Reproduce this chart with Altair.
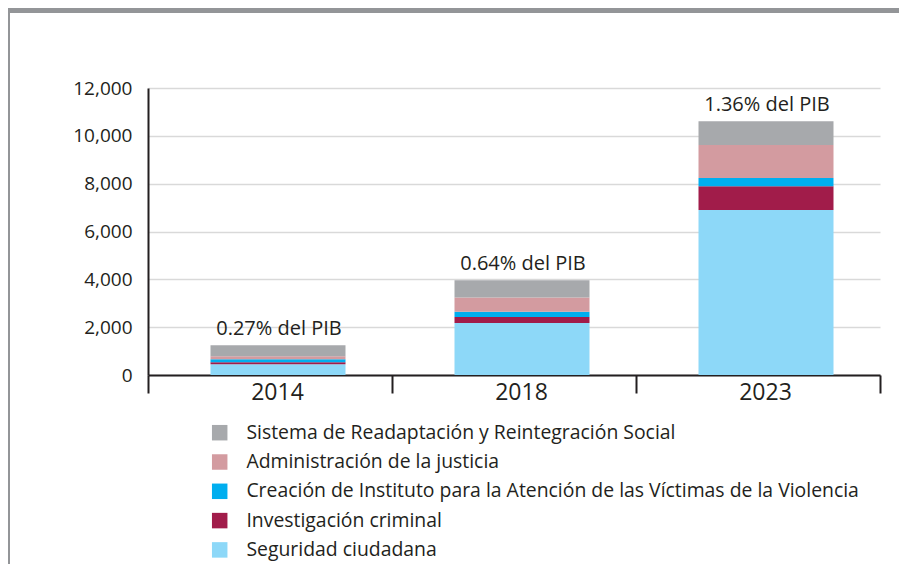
import altair as alt
import pandas as pd

years = ["2014", "2018", "2023"]
pib_labels = ["0.27% del PIB", "0.64% del PIB", "1.36% del PIB"]

# stack order: bottom -> top
cat_seguridad = "Seguridad ciudadana"
cat_investigacion = "Investigación criminal"
cat_instituto = "Creación de Instituto para la Atención de las Víctimas de la Violencia"
cat_administracion = "Administración de la justicia"
cat_sistema = "Sistema de Readaptación y Reintegración Social"

seguridad = [450, 2170, 6900]
investigacion = [80, 250, 990]
instituto = [125, 220, 350]
administracion = [125, 600, 1375]
sistema = [460, 725, 990]

stack_cats = [cat_seguridad, cat_investigacion, cat_instituto, cat_administracion, cat_sistema]
stack_vals = [seguridad, investigacion, instituto, administracion, sistema]
legend_order = [cat_sistema, cat_administracion, cat_instituto, cat_investigacion, cat_seguridad]
legend_colors = ["#a7a9ac", "#d39ba0", "#00aeef", "#a11c4a", "#8dd8f8"]

rows = []
for rank, (cat, vals) in enumerate(zip(stack_cats, stack_vals)):
    for yr, v in zip(years, vals):
        rows.append({"year": yr, "cat": cat, "value": v, "rank": rank})
df = pd.DataFrame(rows)

totals = pd.DataFrame({
    "year": years,
    "total": [sum(v[i] for v in stack_vals) for i in range(len(years))],
    "label": pib_labels,
})

FONT = "Open Sans"
DARK = "#231f20"

x_scale = alt.Scale(paddingInner=0, paddingOuter=0)

x_enc = alt.X("year:N", sort=years, title=None, scale=x_scale,
              axis=alt.Axis(labelAngle=0, labelFontSize=23, labelColor=DARK, labelFont=FONT,
                            domainColor=DARK, domainWidth=2, tickColor=DARK, tickWidth=2,
                            tickSize=18, tickBand="extent", labelPadding=-12, labelOffset=7,
                            grid=False))

bars = alt.Chart(df).mark_bar(width=135, xOffset=8).encode(
    x=x_enc,
    y=alt.Y("value:Q", stack="zero", title=None,
            scale=alt.Scale(domain=[0, 12000], nice=False),
            axis=alt.Axis(values=[0, 2000, 4000, 6000, 8000, 10000, 12000], format=",.0f",
                          labelFontSize=19, labelColor=DARK, labelFont=FONT, labelPadding=16,
                          ticks=False, domainColor=DARK, domainWidth=2,
                          grid=True, gridColor="#d9d9d9", gridWidth=1.5)),
    color=alt.Color("cat:N", title=None,
                    scale=alt.Scale(domain=legend_order, range=legend_colors),
                    legend=alt.Legend(orient="none", legendX=62, legendY=335,
                                      symbolType="square", symbolSize=240, symbolStrokeWidth=0,
                                      symbolOpacity=1, labelFontSize=19.4, labelFont=FONT,
                                      labelColor=DARK, labelOffset=17, rowPadding=8.3,
                                      padding=0, labelLimit=800)),
    order=alt.Order("rank:Q", sort="ascending"),
)

labels = alt.Chart(totals).mark_text(font=FONT, fontSize=20, color=DARK, baseline="alphabetic",
                                     dy=-10, dx=9).encode(
    x=alt.X("year:N", sort=years, scale=x_scale),
    y=alt.Y("total:Q"),
    text="label:N",
)

frame_top = alt.Chart(totals).mark_rect(color="#939598").encode(
    x=alt.value(-140), x2=alt.value(751), y=alt.value(-80), y2=alt.value(-75))
frame_left = alt.Chart(totals).mark_rule(color="#939598", strokeWidth=2).encode(
    x=alt.value(-139), y=alt.value(-80), y2=alt.value(476))

chart = alt.layer(frame_top, frame_left, bars, labels).properties(
    width=732, height=287,
    padding={"left": 140, "top": 80, "right": 19, "bottom": 189},
    autosize=alt.AutoSizeParams(type="none"),
    background="white",
).configure_view(stroke=None)

chart.save("out.html", embed_options={"renderer": "svg", "actions": False})
